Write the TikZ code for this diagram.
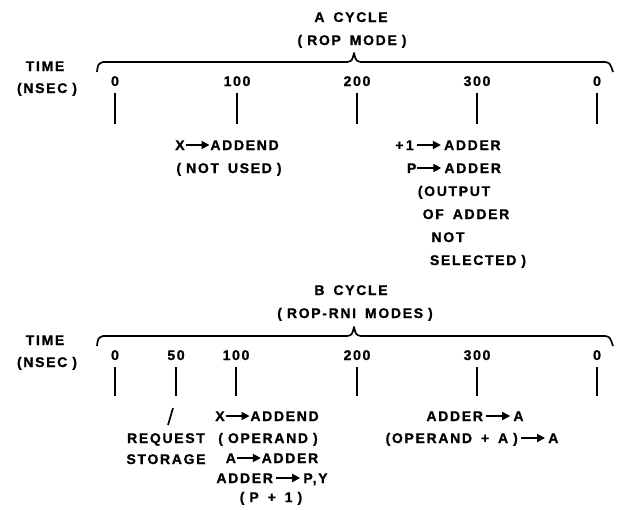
\documentclass[tikz,border=0pt]{standalone}
\usepackage{fontspec}
\setmainfont{Liberation Sans}[LetterSpace=12, WordSpace=1.6, BoldFeatures={FakeBold=1}]
\usetikzlibrary{arrows.meta}

\newcommand{\arw}{\tikz[baseline={(0pt,-5pt)}]\draw[line width=1.8pt,-{Triangle[length=8pt,width=8pt]}] (0pt,0pt) -- (24pt,0pt);}
\newcommand{\pgap}{\hspace{5pt}}

\begin{document}
\begin{tikzpicture}[x=1pt,y=-1pt,
  lbl/.style={font=\fontsize{14}{16}\selectfont\bfseries, inner sep=0pt, text height=10pt, text depth=0pt},
  tickline/.style={line width=1.7pt},
  brc/.style={line width=1.7pt, line join=round}]
\useasboundingbox (0,0) rectangle (617,509);

% A cycle
\node[lbl] (atitle) at (351,17) {A CYCLE};
\node[lbl] (amode) at (352,40) {(\pgap ROP MODE\pgap)};
\node[lbl] (atime) at (45,66) {TIME};
\node[lbl] (ansec) at (47,88) {(NSEC\pgap)};
\draw[brc] (97,72) .. controls (98,64) .. (103,62) -- (347,62) .. controls (352,61) .. (354,53)
  .. controls (356,61) .. (361,62) -- (605,62) .. controls (610,63) .. (613,72);
\node[lbl] (a0) at (115,81) {0};
\node[lbl] (a100) at (237,81) {100};
\node[lbl] (a200) at (357,81) {200};
\node[lbl] (a300) at (477,81) {300};
\node[lbl] (aend) at (597,81) {0};
\foreach \x in {115,237,357,477,597}
  \draw[tickline] (\x,93) -- (\x,124);
\node[lbl] (ax1) at (227,145) {X\arw ADDEND};
\node[lbl] (ax2) at (229,168) {(\pgap NOT USED\pgap)};
\node[lbl] (ap1) at (448,145) {+\,1\,\arw\,ADDER};
\node[lbl] (ap2) at (454,168) {P\arw\,ADDER};
\node[lbl] (ap3) at (454,191) {(OUTPUT};
\node[lbl] (ap4) at (466,214) {OF ADDER};
\node[lbl] (ap5) at (448,237) {NOT};
\node[lbl] (ap6) at (478,260) {SELECTED\pgap)};

% B cycle
\node[lbl] (btitle) at (351,290) {B CYCLE};
\node[lbl] (bmode) at (355,313) {(\pgap ROP-RNI MODES\pgap)};
\node[lbl] (btime) at (45,340) {TIME};
\node[lbl] (bnsec) at (47,362) {(NSEC\pgap)};
\draw[brc] (97,346) .. controls (98,338) .. (103,336) -- (347,336) .. controls (352,335) .. (354,327)
  .. controls (356,335) .. (361,336) -- (605,336) .. controls (610,337) .. (613,346);
\node[lbl] (b0) at (115,355) {0};
\node[lbl] (b50) at (176,355) {50};
\node[lbl] (b100) at (236,355) {100};
\node[lbl] (b200) at (357,355) {200};
\node[lbl] (b300) at (477,355) {300};
\node[lbl] (bend) at (597,355) {0};
\foreach \x in {115,176,236,357,477,597}
  \draw[tickline] (\x,367) -- (\x,396);
\draw[tickline] (168,425) -- (173,408);
\node[lbl] (breq) at (166,438) {REQUEST};
\node[lbl] (bsto) at (166,459) {STORAGE};
\node[lbl] (bx1) at (267,416) {X\arw ADDEND};
\node[lbl] (bx2) at (268,438) {(\pgap OPERAND\pgap)};
\node[lbl] (bx3) at (272,458) {A\arw ADDER};
\node[lbl] (bx4) at (272,478) {ADDER\,\arw\,P,Y};
\node[lbl] (bx5) at (271,497) {(\pgap P + 1\pgap)};
\node[lbl] (ba1) at (475,416) {ADDER\,\arw\,A};
\node[lbl] (ba2) at (472,438) {(OPERAND + A\pgap)\,\arw\,A};
\end{tikzpicture}
\end{document}
